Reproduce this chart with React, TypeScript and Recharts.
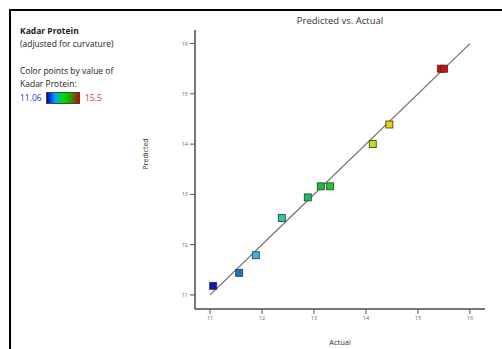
import React from 'react';
import {
  ScatterChart,
  Scatter,
  XAxis,
  YAxis,
  ReferenceLine,
  Cell,
} from 'recharts';

// Kadar Protein: actual vs predicted
const actual = [11.06, 11.56, 11.88, 12.38, 12.88, 13.13, 13.31, 14.13, 14.45, 15.44, 15.5];
const predicted = [11.18, 11.44, 11.79, 12.53, 12.94, 13.16, 13.16, 14.0, 14.39, 15.5, 15.5];
const pointColors = [
  '#0a14c8', '#1f6ee0', '#36b4ec', '#1cc9a8', '#16c25a', '#12c234',
  '#1ad01e', '#c2e010', '#e4d40c', '#d80a0a', '#d80a0a',
];
const ticks = [11, 12, 13, 14, 15, 16];

const data = actual.map((a, i) => ({ actual: a, predicted: predicted[i], color: pointColors[i] }));

const FONT = '"Open Sans", "Noto Sans", sans-serif';
const TICK = { fill: '#666', fontSize: 5.5, fontFamily: FONT };

const Square = (props: any) => {
  const { cx, cy, payload } = props;
  if (cx == null || cy == null) return null;
  return (
    <rect
      x={cx - 3.5}
      y={cy - 3.5}
      width={7}
      height={7}
      fill={payload.color}
      stroke="#333"
      strokeWidth={0.8}
    />
  );
};

const App: React.FC = () => {
  return (
    <div style={{ position: 'absolute', left: 0, top: 0, width: 502, height: 349, background: '#fff', fontFamily: FONT }}>
      {/* outer frame */}
      <div style={{ position: 'absolute', left: 9, top: 9, width: 520, height: 360, borderLeft: '2.5px solid #000', borderTop: '2.5px solid #000' }} />

      {/* legend block */}
      <div style={{ position: 'absolute', left: 20, top: 24, fontSize: 8.5, color: '#222', lineHeight: '13px' }}>
        <div style={{ fontWeight: 'bold' }}>Kadar Protein</div>
        <div>(adjusted for curvature)</div>
        <div style={{ height: 14 }} />
        <div>Color points by value of</div>
        <div>Kadar Protein:</div>
        <div style={{ display: 'flex', alignItems: 'center', marginTop: 1 }}>
          <span style={{ color: '#2a35c8', width: 26 }}>11.06</span>
          <span style={{ display: 'inline-block', width: 32, height: 10, background: 'linear-gradient(to right, #0000c8, #00a0ff, #00e000, #20a000, #d00000)', border: '0.5px solid #444' }} />
          <span style={{ color: '#d83030', marginLeft: 5 }}>15.5</span>
        </div>
      </div>

      <div style={{ position: 'absolute', left: 340, top: 14, transform: 'translateX(-50%)', fontSize: 9.5, color: '#333', whiteSpace: 'nowrap' }}>
        Predicted vs. Actual
      </div>

      <div style={{ position: 'absolute', left: 0, top: 0 }}>
        <ScatterChart width={502} height={349} margin={{ top: 30, right: 17, bottom: 0, left: 140 }}>
          <XAxis
            type="number"
            dataKey="actual"
            xAxisId="b"
            domain={[10.71, 16.29]}
            ticks={ticks}
            height={40}
            tick={TICK}
            tickSize={5}
            tickLine={{ stroke: '#555' }}
            axisLine={{ stroke: '#4a4a4a', strokeWidth: 1.5 }}
            label={{ value: 'Actual', position: 'insideBottom', offset: 4, fontSize: 7.5, fill: '#333', fontFamily: FONT }}
          />
          <XAxis type="number" xAxisId="t" orientation="top" domain={[10.71, 16.29]} height={0} tick={false} tickLine={false} axisLine={{ stroke: '#4a4a4a', strokeWidth: 1.5 }} />
          <YAxis
            type="number"
            dataKey="predicted"
            yAxisId="l"
            domain={[10.72, 16.27]}
            ticks={ticks}
            width={55}
            tick={TICK}
            tickSize={5}
            tickLine={{ stroke: '#555' }}
            axisLine={{ stroke: '#4a4a4a', strokeWidth: 1.5 }}
            label={{ value: 'Predicted', angle: -90, position: 'insideLeft', offset: 6, fontSize: 7, fill: '#333', fontFamily: FONT }}
          />
          <YAxis type="number" yAxisId="r" orientation="right" domain={[10.72, 16.27]} width={0} tick={false} tickLine={false} axisLine={{ stroke: '#4a4a4a', strokeWidth: 1.5 }} />
          <ReferenceLine
            xAxisId="b"
            yAxisId="l"
            segment={[{ x: 11, y: 11 }, { x: 16, y: 16 }]}
            stroke="#6e6e6e"
            strokeWidth={1.2}
            ifOverflow="visible"
          />
          <Scatter xAxisId="b" yAxisId="l" data={data} shape={Square} isAnimationActive={false}>
            {data.map((d, i) => (
              <Cell key={i} fill={d.color} />
            ))}
          </Scatter>
        </ScatterChart>
      </div>
    </div>
  );
};

export default App;
